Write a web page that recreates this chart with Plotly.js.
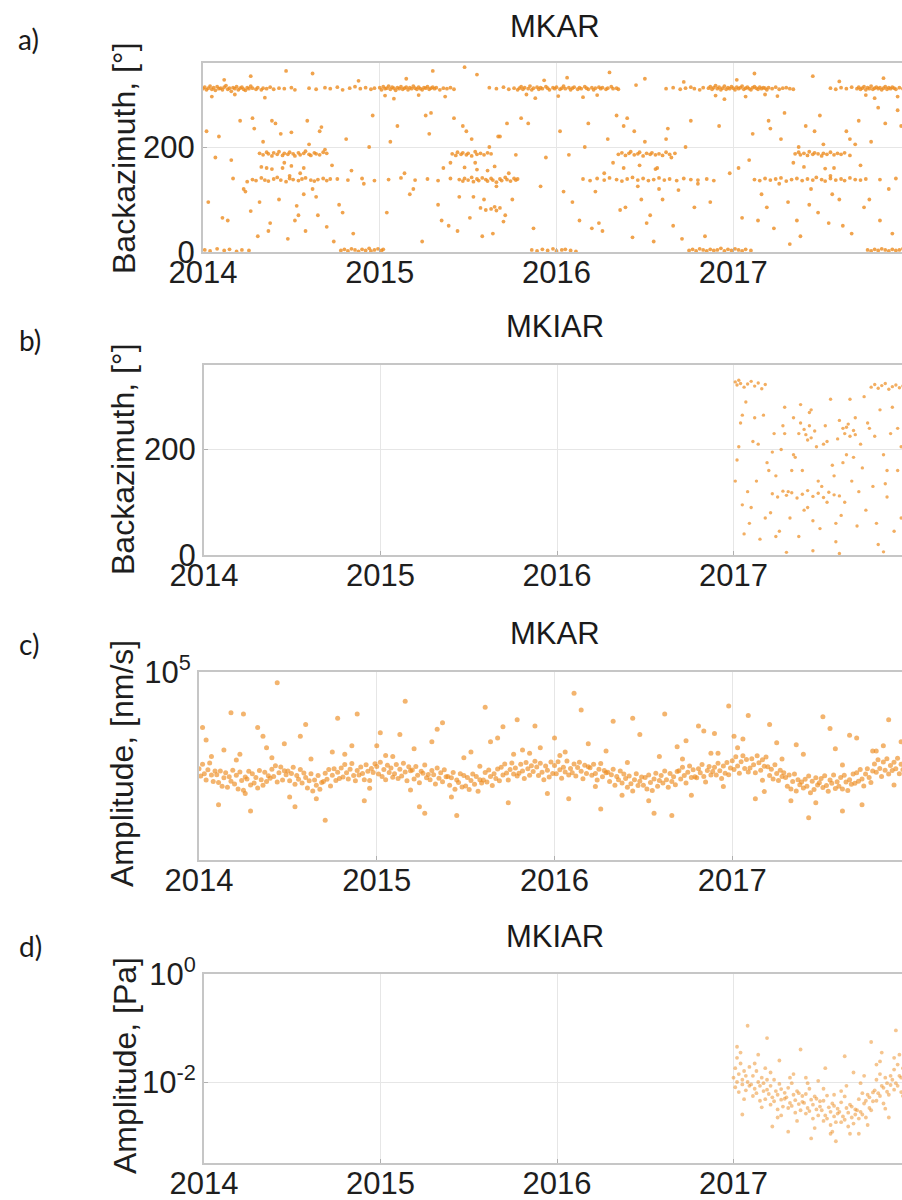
<!DOCTYPE html>
<html><head><meta charset="utf-8">
<script src="https://cdn.plot.ly/plotly-3.0.1.min.js"></script>
<style>html,body{margin:0;padding:0;overflow:hidden;background:#fff}#chart{width:910px;height:1200px}</style>
</head><body><div id="chart"></div>
<script>
// ---------- tick labels / texts ----------
const xTickVals = [2014, 2015, 2016, 2017];
const xTickLabels = ['2014', '2015', '2016', '2017'];
const panelTitles = ['MKAR', 'MKIAR', 'MKAR', 'MKIAR'];
const panelLetters = ['a)', 'b)', 'c)', 'd)'];
const yTitles = ['Backazimuth, [°]', 'Backazimuth, [°]', 'Amplitude, [nm/s]', 'Amplitude, [Pa]'];
const bazTickVals = [0, 200];
const bazTickLabels = ['0', '200'];
const velTickVals = [100000];
const velTickLabels = ['10<sup>5</sup>'];
const paTickVals = [1, 0.01];
const paTickLabels = ['10<sup>0</sup>', '10<sup>-2</sup>'];

// ---------- a) MKAR backazimuth (decimal year, degrees) ----------
const aX = [
2014.00,2014.01,2014.02,2014.03,2014.04,2014.05,2014.06,2014.07,2014.08,2014.09,2014.10,2014.11,2014.12,2014.13,2014.14,2014.15,2014.16,2014.17,2014.18,2014.19,2014.20,2014.21,2014.22,2014.23,2014.24,2014.25,2014.26,2014.27,2014.28,2014.30,2014.31,2014.33,2014.34,2014.36,2014.38,2014.40,2014.43,2014.46,2014.50,2014.52,
2014.60,2014.64,2014.69,2014.72,2014.76,2014.79,2014.83,2014.86,2014.89,2014.92,2014.95,2014.97,
2015.00,2015.01,2015.02,2015.03,2015.04,2015.05,2015.06,2015.07,2015.08,2015.09,2015.10,2015.11,2015.12,2015.13,2015.14,2015.15,2015.16,2015.17,2015.18,2015.19,2015.20,2015.21,2015.22,2015.23,2015.24,2015.25,2015.26,2015.27,2015.28,2015.29,2015.30,2015.31,2015.32,2015.34,2015.36,2015.38,2015.40,2015.42,
2015.62,2015.66,2015.70,2015.73,2015.76,2015.78,
2015.79,2015.80,2015.81,2015.82,2015.84,2015.85,2015.86,2015.87,2015.89,2015.90,2015.91,2015.92,2015.94,2015.95,2015.96,2015.98,2015.99,2016.00,2016.02,2016.03,2016.04,2016.05,2016.07,2016.08,2016.09,2016.10,2016.12,2016.13,2016.14,2016.16,2016.17,2016.18,2016.20,2016.21,2016.22,2016.24,2016.25,2016.26,2016.28,2016.29,2016.31,2016.32,2016.34,2016.35,
2016.62,2016.66,2016.70,2016.73,2016.76,2016.78,2016.81,2016.83,
2016.86,2016.87,2016.88,2016.89,2016.90,2016.91,2016.92,2016.93,2016.94,2016.95,2016.96,2016.97,2016.98,2016.99,2017.00,2017.01,2017.02,2017.03,2017.04,2017.05,2017.06,2017.07,2017.08,2017.09,2017.10,2017.11,2017.12,2017.13,2017.14,2017.15,2017.16,2017.17,2017.18,2017.19,2017.20,2017.22,2017.24,2017.26,2017.28,2017.30,2017.32,2017.34,
2017.55,2017.58,2017.61,2017.64,2017.67,
2017.70,2017.71,2017.72,2017.73,2017.74,2017.75,2017.76,2017.77,2017.78,2017.79,2017.80,2017.81,2017.82,2017.83,2017.84,2017.85,2017.86,2017.87,2017.88,2017.89,2017.90,2017.91,2017.92,2017.94,2017.96,2017.98,
2014.05,2014.12,2014.18,2014.27,2014.35,2014.62,2014.88,2015.03,2015.08,2015.15,2015.22,2015.30,2015.37,2015.55,2015.83,2015.88,2015.93,2016.01,2016.06,2016.15,2016.23,2016.30,2016.50,2016.72,2016.90,2016.95,2017.02,2017.07,2017.12,2017.18,2017.25,2017.45,2017.60,2017.75,2017.80,2017.85,2017.93,2014.47,2015.48,2016.45,
2014.32,2014.34,2014.36,2014.37,2014.39,2014.40,2014.42,2014.43,2014.45,2014.46,2014.48,2014.49,2014.51,2014.52,2014.54,2014.55,2014.57,2014.58,2014.60,2014.61,2014.63,2014.64,2014.66,2014.68,2014.70,
2015.41,2015.43,2015.44,2015.46,2015.47,2015.49,2015.50,2015.52,2015.54,2015.55,2015.57,2015.59,2015.61,2015.63,
2016.35,2016.37,2016.39,2016.41,2016.42,2016.44,2016.46,2016.47,2016.49,2016.51,2016.53,2016.54,2016.56,2016.58,2016.60,2016.62,2016.64,2016.67,
2017.35,2017.37,2017.38,2017.40,2017.42,2017.43,2017.45,2017.46,2017.48,2017.50,2017.51,2017.53,2017.55,2017.57,2017.59,2017.61,2017.63,2017.66,
2014.25,2014.28,2014.30,2014.33,2014.35,2014.37,2014.40,2014.42,2014.44,2014.47,2014.49,2014.51,2014.54,2014.56,2014.58,2014.61,2014.63,2014.65,2014.68,2014.70,2014.72,2014.45,
2014.76,2014.82,2014.90,2014.97,2015.05,2015.12,2015.20,2015.27,2015.33,2015.40,
2015.45,2015.47,2015.48,2015.50,2015.52,2015.53,2015.55,2015.56,2015.58,2015.60,2015.61,2015.63,2015.64,2015.66,2015.68,2015.69,2015.71,2015.72,2015.74,2015.76,2015.77,2015.78,
2016.15,2016.19,2016.23,2016.27,2016.30,2016.34,2016.37,2016.40,2016.43,2016.46,2016.49,2016.52,2016.55,2016.58,2016.61,2016.64,2016.68,2016.72,2016.76,2016.80,2016.85,2016.89,
2017.12,2017.15,2017.18,2017.21,2017.24,2017.27,2017.30,2017.33,2017.36,2017.39,2017.42,2017.45,2017.47,2017.50,2017.52,2017.55,2017.58,2017.61,2017.63,2017.66,2017.69,2017.72,2017.75,2017.83,2017.92,
2014.33,2014.39,2014.50,2014.57,2015.48,2015.55,2015.65,2016.38,2016.47,2016.56,2017.40,2017.52,
2014.01,2014.04,2014.08,2014.12,2014.15,2014.19,2014.22,2014.26,
2014.78,2014.80,2014.82,2014.84,2014.86,2014.88,2014.90,2014.92,2014.94,2014.95,2014.97,2014.99,2015.01,2015.02,
2015.86,2015.89,2015.92,2015.95,2015.98,2016.00,2016.03,2016.05,2016.08,2016.11,
2016.75,2016.77,2016.79,2016.81,2016.83,2016.85,2016.87,2016.89,2016.91,2016.93,2016.95,2016.97,2016.99,2017.01,2017.03,2017.05,2017.07,2017.10,
2017.76,2017.78,2017.80,2017.82,2017.84,2017.86,2017.88,2017.90,2017.92,2017.94,2017.96,2017.98,
2014.03,2014.09,2014.14,2014.21,2014.24,2014.27,2014.29,2014.31,2014.34,2014.36,2014.38,2014.41,2014.43,2014.46,2014.48,2014.50,2014.53,2014.55,2014.58,2014.60,2014.62,2014.65,2014.67,2014.70,2014.73,2014.77,2014.81,2014.85,2014.91,2014.96,
2015.04,2015.10,2015.17,2015.24,2015.28,2015.33,2015.36,2015.39,2015.42,2015.45,2015.49,2015.51,2015.54,2015.57,2015.60,2015.62,2015.64,2015.66,2015.68,2015.70,2015.73,2015.75,2015.80,2015.87,2015.94,
2016.02,2016.09,2016.13,2016.18,2016.22,2016.26,2016.29,2016.32,2016.36,2016.40,2016.43,2016.46,2016.50,2016.53,2016.57,2016.60,2016.63,2016.66,2016.69,2016.73,2016.78,2016.84,2016.92,2016.98,
2017.05,2017.11,2017.16,2017.20,2017.23,2017.27,2017.31,2017.34,2017.38,2017.41,2017.44,2017.48,2017.51,2017.54,2017.57,2017.60,2017.64,2017.67,2017.71,2017.74,2017.78,2017.83,2017.88,2017.93,2017.97,
2015.63,2015.65,2015.66,2015.68,
2014.07,2014.17,2014.39,2014.52,2014.57,2014.66,2014.79,2014.94,2015.14,2015.26,2015.44,2015.52,2015.59,2015.72,2015.91,2016.07,2016.24,2016.38,2016.48,2016.55,2016.62,2016.80,2017.09,2017.19,2017.29,2017.36,2017.46,2017.56,2017.69,2017.86
];
const aY = [
311,314,309,312,316,310,313,308,315,311,312,309,314,317,310,312,306,313,311,315,309,312,314,310,308,313,311,316,312,310,313,309,312,311,314,310,312,311,313,309,
312,310,313,311,314,309,312,315,311,313,310,312,
313,309,315,311,312,316,310,314,312,308,313,311,315,310,312,314,309,313,311,316,312,310,314,311,309,313,312,315,310,312,314,311,313,309,312,311,313,310,
313,311,314,310,312,309,
312,315,310,313,311,316,309,312,314,310,313,311,315,312,309,313,311,314,310,312,316,311,313,309,312,314,310,313,311,315,312,310,313,309,312,314,311,313,310,312,315,311,312,310,
311,313,310,312,314,311,309,313,
312,315,310,313,317,311,314,309,312,316,310,313,311,315,312,309,314,311,313,316,310,312,314,311,309,313,315,312,310,314,311,313,312,309,313,311,314,310,312,313,311,310,
312,310,313,311,314,
311,314,310,312,315,309,313,311,316,310,312,314,311,313,309,312,315,310,313,311,314,312,310,313,311,312,
296,328,300,335,294,340,326,298,292,330,299,345,296,338,300,293,327,297,332,295,299,342,330,324,298,291,328,296,340,300,297,335,325,299,293,331,296,345,352,318,
188,185,190,187,183,189,186,191,184,188,186,190,187,183,189,185,188,192,186,184,189,187,185,190,188,
187,184,190,186,189,185,188,183,191,186,188,185,189,187,
186,189,184,188,191,185,187,190,183,188,186,189,185,187,184,190,186,188,
187,190,185,188,184,191,186,189,187,183,188,186,190,185,188,186,189,184,
134,138,136,141,137,135,139,142,137,134,140,138,136,139,141,137,135,138,140,136,139,160,
139,137,140,136,138,141,137,139,136,140,
138,135,140,137,142,134,139,136,141,138,135,140,137,133,139,136,142,138,135,140,137,139,
139,136,140,137,141,138,135,139,142,137,140,136,138,141,137,139,136,140,138,137,139,136,
138,136,140,137,139,141,135,138,140,136,139,137,142,138,135,140,137,139,136,141,138,137,139,138,140,
162,158,164,160,161,157,163,160,165,158,162,159,
4,2,6,3,5,1,4,3,
3,5,2,6,4,1,5,3,7,2,4,6,3,5,
4,2,5,3,6,2,4,5,3,1,
3,5,2,6,4,2,5,3,4,7,2,5,3,6,4,2,5,3,
4,2,5,3,6,4,2,5,3,4,6,2,
95,220,60,250,115,78,235,30,210,160,55,245,100,170,25,228,88,150,40,205,120,70,238,48,165,90,215,35,130,260,
75,240,110,20,225,90,160,50,255,105,230,65,170,84,80,200,35,125,220,58,150,100,255,45,180,
230,95,60,245,115,40,215,170,80,255,28,125,210,70,160,100,235,50,118,200,85,30,240,150,
65,225,110,250,45,215,95,170,30,240,120,75,205,55,160,100,230,35,250,85,210,60,120,270,40,
82,86,79,84,
180,140,250,60,110,230,75,200,150,260,40,215,100,245,125,185,55,240,100,20,215,130,175,85,265,60,230,110,205,245
];
// additional scattered detections of panel a
const aXMore = [
2014.02,2014.11,2014.16,2014.23,2014.28,2014.32,2014.37,2014.44,2014.49,2014.54,2014.59,2014.64,2014.69,2014.74,2014.84,
2015.06,2015.19,2015.29,2015.35,2015.40,2015.47,2015.53,2015.58,2015.61,2015.67,2015.71,2015.77,2015.84,
2016.04,2016.16,2016.20,2016.27,2016.34,2016.39,2016.44,2016.51,2016.58,2016.65,2016.71,2016.76,2016.87,
2017.03,2017.14,2017.21,2017.26,2017.32,2017.37,2017.43,2017.49,2017.55,2017.62,2017.66,2017.72,2017.77,2017.82,2017.90,2017.95
];
const aYMore = [
230,65,175,120,255,95,40,225,145,70,250,105,195,20,155,
210,120,265,60,170,240,105,30,155,220,70,185,245,
115,200,45,150,260,85,230,55,120,180,25,250,95,
160,60,235,130,15,200,90,260,145,50,215,165,100,275,35,240
];

// ---------- b) MKIAR backazimuth ----------
const bX = [
2017.01,2017.02,2017.03,2017.04,2017.06,2017.08,2017.10,2017.12,2017.14,2017.16,2017.18,
2017.78,2017.80,2017.82,2017.84,2017.86,2017.88,2017.90,2017.92,2017.94,2017.96,
2017.38,2017.40,2017.41,2017.43,2017.44,2017.46,2017.60,2017.62,2017.63,2017.65,2017.66,2017.68,
2017.22,2017.25,2017.28,2017.30,2017.33,2017.36,2017.39,2017.42,2017.45,2017.48,2017.51,2017.54,2017.57,2017.60,
2017.02,2017.04,2017.05,2017.07,2017.09,2017.11,2017.13,2017.15,2017.17,2017.19,2017.21,2017.23,2017.24,2017.26,2017.27,2017.29,2017.31,2017.32,2017.34,2017.35,2017.37,2017.39,2017.42,2017.44,2017.47,2017.49,2017.50,2017.52,2017.53,2017.55,2017.56,2017.58,2017.59,2017.61,2017.64,2017.67,2017.69,2017.70,2017.72,2017.73,2017.75,2017.77,2017.79,2017.81,2017.83,2017.85,2017.87,2017.89,2017.91,2017.93,2017.95,2017.97,
2017.03,2017.08,2017.12,2017.18,2017.22,2017.28,2017.33,2017.38,2017.45,2017.51,2017.57,2017.63,2017.68,2017.74,2017.80,2017.86,2017.90,2017.95,2017.99,2017.06,
2017.30,2017.45,2017.60,2017.85,
2017.01,2017.05,2017.10,2017.14,2017.20,2017.24,2017.29,2017.34,2017.40,2017.43,2017.48,2017.53,2017.58,2017.62,2017.66,2017.71,2017.76,2017.82,2017.87,2017.93,2017.98,2017.37,2017.42,2017.64,2017.69
];
const bY = [
328,322,331,325,318,324,329,320,326,315,323,
318,323,316,321,325,314,319,322,317,320,
250,238,228,245,222,235,255,240,230,248,225,236,
116,110,121,113,118,108,115,122,111,117,109,119,114,112,
180,250,95,290,60,215,140,30,265,175,80,230,150,45,200,280,120,70,260,185,35,160,90,275,205,50,130,245,100,295,170,25,220,75,190,140,260,55,210,165,85,240,130,60,275,190,110,230,45,160,205,100,
205,120,260,70,195,245,160,285,65,210,150,100,185,300,225,135,280,70,190,40,
5,8,3,6,
140,265,90,210,160,35,230,190,85,270,140,215,60,175,295,120,250,20,160,240,95,230,218,242,228
];

// ---------- c) MKAR amplitude, nm/s ----------
const cX = [
2014.00,2014.01,2014.02,2014.03,2014.04,2014.05,2014.06,2014.07,2014.08,2014.09,
2014.10,2014.11,2014.12,2014.13,2014.14,2014.15,2014.16,2014.17,2014.18,2014.19,
2014.20,2014.21,2014.22,2014.23,2014.24,2014.25,2014.26,2014.27,2014.28,2014.29,
2014.30,2014.31,2014.32,2014.33,2014.34,2014.35,2014.36,2014.37,2014.38,2014.39,
2014.40,2014.41,2014.42,2014.43,2014.44,2014.45,2014.46,2014.47,2014.48,2014.49,
2014.50,2014.51,2014.52,2014.53,2014.54,2014.55,2014.56,2014.57,2014.58,2014.59,
2014.60,2014.61,2014.62,2014.63,2014.64,2014.65,2014.66,2014.67,2014.68,2014.69,
2014.70,2014.71,2014.72,2014.73,2014.74,2014.75,2014.76,2014.77,2014.78,2014.79,
2014.80,2014.81,2014.82,2014.83,2014.84,2014.85,2014.86,2014.87,2014.88,2014.89,
2014.90,2014.91,2014.92,2014.93,2014.94,2014.95,2014.96,2014.97,2014.98,2014.99,
2015.00,2015.01,2015.02,2015.03,2015.04,2015.05,2015.06,2015.07,2015.08,2015.09,
2015.10,2015.11,2015.12,2015.13,2015.14,2015.15,2015.16,2015.17,2015.18,2015.19,
2015.20,2015.21,2015.22,2015.23,2015.24,2015.25,2015.26,2015.27,2015.28,2015.29,
2015.30,2015.31,2015.32,2015.33,2015.34,2015.35,2015.36,2015.37,2015.38,2015.39,
2015.40,2015.41,2015.42,2015.43,2015.44,2015.45,2015.46,2015.47,2015.48,2015.49,
2015.50,2015.51,2015.52,2015.53,2015.54,2015.55,2015.56,2015.57,2015.58,2015.59,
2015.60,2015.61,2015.62,2015.63,2015.64,2015.65,2015.66,2015.67,2015.68,2015.69,
2015.70,2015.71,2015.72,2015.73,2015.74,2015.75,2015.76,2015.77,2015.78,2015.79,
2015.80,2015.81,2015.82,2015.83,2015.84,2015.85,2015.86,2015.87,2015.88,2015.89,
2015.90,2015.91,2015.92,2015.93,2015.94,2015.95,2015.96,2015.97,2015.98,2015.99,
2016.00,2016.01,2016.02,2016.03,2016.04,2016.05,2016.06,2016.07,2016.08,2016.09,
2016.10,2016.11,2016.12,2016.13,2016.14,2016.15,2016.16,2016.17,2016.18,2016.19,
2016.20,2016.21,2016.22,2016.23,2016.24,2016.25,2016.26,2016.27,2016.28,2016.29,
2016.30,2016.31,2016.32,2016.33,2016.34,2016.35,2016.36,2016.37,2016.38,2016.39,
2016.40,2016.41,2016.42,2016.43,2016.44,2016.45,2016.46,2016.47,2016.48,2016.49,
2016.50,2016.51,2016.52,2016.53,2016.54,2016.55,2016.56,2016.57,2016.58,2016.59,
2016.60,2016.61,2016.62,2016.63,2016.64,2016.65,2016.66,2016.67,2016.68,2016.69,
2016.70,2016.71,2016.72,2016.73,2016.74,2016.75,2016.76,2016.77,2016.78,2016.79,
2016.80,2016.81,2016.82,2016.83,2016.84,2016.85,2016.86,2016.87,2016.88,2016.89,
2016.90,2016.91,2016.92,2016.93,2016.94,2016.95,2016.96,2016.97,2016.98,2016.99,
2017.00,2017.01,2017.02,2017.03,2017.04,2017.05,2017.06,2017.07,2017.08,2017.09,
2017.10,2017.11,2017.12,2017.13,2017.14,2017.15,2017.16,2017.17,2017.18,2017.19,
2017.20,2017.21,2017.22,2017.23,2017.24,2017.25,2017.26,2017.27,2017.28,2017.29,
2017.30,2017.31,2017.32,2017.33,2017.34,2017.35,2017.36,2017.37,2017.38,2017.39,
2017.40,2017.41,2017.42,2017.43,2017.44,2017.45,2017.46,2017.47,2017.48,2017.49,
2017.50,2017.51,2017.52,2017.53,2017.54,2017.55,2017.56,2017.57,2017.58,2017.59,
2017.60,2017.61,2017.62,2017.63,2017.64,2017.65,2017.66,2017.67,2017.68,2017.69,
2017.70,2017.71,2017.72,2017.73,2017.74,2017.75,2017.76,2017.77,2017.78,2017.79,
2017.80,2017.81,2017.82,2017.83,2017.84,2017.85,2017.86,2017.87,2017.88,2017.89,
2017.90,2017.91,2017.92,2017.93,2017.94,2017.95,2017.96,2017.97,2017.98,2017.99,
2014.04,2014.11,2014.18,2014.23,2014.29,2014.33,2014.38,2014.44,2014.51,2014.57,2014.63,2014.71,2014.78,2014.86,2014.93,2015.02,2015.09,2015.16,2015.24,2015.31,2015.37,2015.45,2015.53,2015.61,2015.68,2015.74,2015.82,2015.89,2015.96,2016.03,2016.11,2016.19,2016.26,2016.33,2016.41,2016.48,2016.56,2016.62,2016.69,2016.77,2016.84,2016.92,2016.98,2017.06,2017.13,2017.21,2017.28,2017.36,2017.43,2017.51,2017.58,2017.66,2017.73,2017.81,2017.88,2017.95,
2014.07,2014.26,2014.41,2014.66,2014.82,2015.05,2015.19,2015.42,2015.58,2015.77,2016.06,2016.23,2016.38,2016.53,2016.72,2016.88,2017.03,2017.17,2017.33,2017.47,2017.62,2017.79,2017.91,2014.96,2015.86,2016.95,
2014.02,2014.14,2014.21,2014.36,2014.48,2014.60,2014.75,2014.89,2015.00,2015.13,2015.21,2015.34,2015.49,2015.64,2015.79,2015.92,2016.00,2016.15,2016.29,2016.44,2016.59,2016.74,2016.81,2016.90,2017.01,2017.09,2017.25,2017.40,2017.55,2017.70,2017.85,2017.98,2014.54,2015.27,2016.08,2016.66,2017.18,2017.62,2014.25,2015.71
];
const cY = [
32100,29400,33800,30200,28100,31700,34300,29800,27600,31200,
29900,27300,31200,26100,28800,30600,25800,29200,27700,31500,
26800,29700,25300,30900,27900,24900,29100,28400,31100,26500,
30200,27100,28900,25600,31400,28200,26400,30800,27600,29500,
28700,31900,29300,33200,27400,30600,32700,28100,31300,29900,
31200,27800,30300,32600,26700,29600,28300,31800,27100,30500,
28900,25600,27800,30200,24700,28100,26400,29600,25200,27300,
27600,30400,28300,31800,26200,29700,32100,27900,30800,28600,
32300,29100,33700,30600,28400,31900,34100,29600,27800,31400,
29800,32700,30300,28200,33600,31100,27900,32200,30700,34000,
32900,30100,34600,29300,31800,28200,33400,30700,32300,29000,
30200,33700,28600,31900,29400,34200,30900,27800,32800,31300,
31600,28400,32900,29700,27200,31100,30400,33500,28800,30000,
28200,31400,29900,26800,32300,28700,30600,27500,31700,29200,
29300,26400,28800,30700,25200,28100,27300,30200,25900,29600,
26200,28900,25100,27900,30100,26700,29300,24600,28200,27100,
28100,30700,27400,31600,29300,26300,30200,28600,32000,27800,
32600,29800,33900,30500,28100,31800,34300,30100,32300,29400,
30400,33800,31200,28600,34500,32100,29700,33200,31000,35000,
32700,29600,34200,30800,28200,33100,31500,29100,34700,30300,
33300,30200,34800,31700,28700,32600,30900,35100,29800,32200,
30600,33900,29400,32500,34600,31100,28500,33400,30300,32800,
32400,29700,33800,30300,28100,31900,34100,29200,31400,30600,
30800,27600,29900,31900,26400,29300,28200,31200,27100,30100,
28600,25800,29400,26900,24700,28200,30200,26300,27700,29100,
26400,28900,25300,29800,27300,24800,28400,30400,26100,27900,
29600,27100,31200,28200,25800,30300,27600,29200,26600,31000,
31300,28400,32600,29600,27100,30800,33100,28900,31700,29200,
28800,32100,30600,33700,29300,27400,31400,32900,29800,31000,
32600,29800,34200,31300,28600,33100,30400,34500,29900,32300,
35200,31800,36900,33100,30400,34800,37300,32200,35700,30900,
32300,36100,33600,30600,37400,34400,31500,35600,33000,36800,
32800,29600,31900,28400,33600,30300,27900,31500,29300,30600,
28900,26100,29800,25300,27600,30100,24700,28200,26600,27400,
25600,28300,26100,29400,24200,27700,25100,28800,26500,27200,
28600,25700,29500,26300,24600,28100,27000,29800,25400,27500,
26100,28900,25300,29700,27400,24800,28200,26700,30100,27000,
30600,27700,31800,28400,26200,30100,32100,28900,27300,31200,
33900,30800,35600,32200,29300,34700,31500,36100,30100,33300,
31400,34600,32100,36300,30200,33800,31700,35400,29600,34100,
45000,21000,62000,38000,19500,52000,41000,88000,23000,47000,36000,17500,58000,42000,22000,49000,37000,71000,20500,44000,55000,18500,39000,66000,46000,21500,40000,53000,24000,37500,78000,43000,20000,56000,34500,48000,19000,61000,41500,23500,50000,38500,67000,45500,22500,54000,36000,42500,18000,59000,40500,47500,21000,39500,57000,44000,
37000,24000,36500,22500,38000,37500,25000,23000,33000,38000,39000,26000,23500,22000,36000,38500,41000,28000,22000,21500,33500,39500,26500,25500,38500,26000,
52000,40000,35500,47000,43000,54000,39000,61000,42000,48000,40500,51000,36500,44000,57000,41000,46000,64000,39500,58000,37000,44500,53000,48500,47000,60000,43500,38000,51500,46000,42000,49500,20500,19000,22500,18500,24500,19500,61000,52500
];

// ---------- d) MKIAR amplitude, Pa ----------
const dX = [
2017.00,2017.01,2017.01,2017.02,2017.03,2017.03,2017.04,2017.05,2017.05,2017.06,2017.07,2017.07,2017.08,2017.09,2017.09,
2017.10,2017.11,2017.11,2017.12,2017.13,2017.13,2017.14,2017.15,2017.15,2017.16,2017.17,2017.17,2017.18,2017.19,2017.19,
2017.20,2017.21,2017.21,2017.22,2017.23,2017.23,2017.24,2017.25,2017.25,2017.26,2017.27,2017.27,2017.28,2017.29,2017.29,
2017.30,2017.31,2017.31,2017.32,2017.33,2017.33,2017.34,2017.35,2017.35,2017.36,2017.37,2017.37,2017.38,2017.39,2017.39,
2017.40,2017.41,2017.41,2017.42,2017.43,2017.43,2017.44,2017.45,2017.45,2017.46,2017.47,2017.47,2017.48,2017.49,2017.49,
2017.50,2017.51,2017.51,2017.52,2017.53,2017.53,2017.54,2017.55,2017.55,2017.56,2017.57,2017.57,2017.58,2017.59,2017.59,
2017.60,2017.61,2017.61,2017.62,2017.63,2017.63,2017.64,2017.65,2017.65,2017.66,2017.67,2017.67,2017.68,2017.69,2017.69,
2017.70,2017.71,2017.71,2017.72,2017.73,2017.73,2017.74,2017.75,2017.75,2017.76,2017.77,2017.77,2017.78,2017.79,2017.79,
2017.80,2017.81,2017.81,2017.82,2017.83,2017.83,2017.84,2017.85,2017.85,2017.86,2017.87,2017.87,2017.88,2017.89,2017.89,
2017.90,2017.91,2017.91,2017.92,2017.93,2017.93,2017.94,2017.95,2017.95,2017.96,2017.97,2017.97,2017.98,2017.99,2017.99,
2017.02,2017.08,2017.14,2017.19,2017.26,2017.31,2017.38,2017.44,2017.52,2017.58,2017.63,2017.71,2017.78,2017.84,2017.92,2017.97,2017.05,2017.22,2017.41,2017.55,2017.68,2017.88,
2017.02,2017.06,2017.12,2017.16,2017.21,2017.27,2017.32,2017.36,2017.42,2017.46,2017.51,2017.56,2017.61,2017.66,2017.72,2017.76,2017.81,2017.86,2017.91,2017.96,2017.04,2017.18,2017.34,2017.48,2017.64,2017.74,2017.83,2017.94,2017.25,2017.57
];
const dY = [
0.012,0.008,0.018,0.010,0.014,0.0065,0.022,0.011,0.009,0.016,0.007,0.013,0.010,0.019,0.0085,
0.009,0.0055,0.013,0.0075,0.016,0.0062,0.010,0.0045,0.0085,0.012,0.0068,0.0095,0.0048,0.011,0.0072,
0.006,0.0038,0.0085,0.0052,0.011,0.0044,0.0068,0.0031,0.0058,0.0092,0.0047,0.0074,0.0035,0.0063,0.0049,
0.0052,0.0033,0.0078,0.0041,0.0095,0.0036,0.0058,0.0027,0.0046,0.0068,0.0039,0.0062,0.0030,0.0055,0.0043,
0.0041,0.0026,0.0060,0.0033,0.0075,0.0029,0.0047,0.0021,0.0038,0.0054,0.0031,0.0049,0.0024,0.0044,0.0035,
0.0030,0.0019,0.0045,0.0024,0.0056,0.0021,0.0034,0.0016,0.0028,0.0040,0.0023,0.0036,0.0018,0.0032,0.0026,
0.0028,0.0018,0.0042,0.0023,0.0054,0.0020,0.0033,0.0015,0.0027,0.0038,0.0022,0.0035,0.0017,0.0031,0.0025,
0.0030,0.0021,0.0048,0.0028,0.0062,0.0025,0.0040,0.0022,0.0045,0.0058,0.0033,0.0052,0.0030,0.0064,0.0044,
0.0070,0.0045,0.011,0.0062,0.014,0.0055,0.0085,0.0040,0.0078,0.012,0.0066,0.0095,0.0058,0.013,0.0088,
0.011,0.0072,0.017,0.0095,0.021,0.0085,0.013,0.0065,0.012,0.018,0.0098,0.015,0.008,0.019,0.012,
0.045,0.11,0.032,0.065,0.025,0.0012,0.04,0.0009,0.018,0.0008,0.03,0.0011,0.055,0.035,0.09,0.28,0.0025,0.0015,0.012,0.0011,0.015,0.0022,
0.028,0.0048,0.022,0.0034,0.015,0.0024,0.012,0.0019,0.0095,0.0014,0.0075,0.0012,0.0068,0.0011,0.0095,0.0016,0.021,0.0032,0.028,0.0055,0.035,0.018,0.014,0.0105,0.0085,0.013,0.024,0.032,0.0022,0.0058
];

// ---------- styling / geometry (pixels of the 910x1200 figure) ----------
const W = 910, H = 1200;
const FONT = 'Liberation Sans, Arial, sans-serif';
const ORANGE = 'rgb(236,140,32)';
const panels = [
  {left: 203, top: 63,  bottom: 252},
  {left: 204, top: 365, bottom: 555},
  {left: 199, top: 672, bottom: 860},
  {left: 204, top: 974, bottom: 1163}
];
const titleY = [26, 327, 633, 936];
const letterPos = [[28, 39], [30, 340], [29, 644], [31, 946]];
const yTitlePos = [[124, 158], [123, 459], [122, 764], [125, 1066]];

const px = v => v / W;
const py = v => 1 - v / H;

function xAxis(i) {
  const p = panels[i];
  return {
    domain: [px(p.left), 1], anchor: i === 0 ? 'y' : 'y' + (i + 1),
    range: [2014, 2018], tickmode: 'array', tickvals: xTickVals, ticktext: xTickLabels,
    showgrid: true, gridcolor: '#e6e6e6', gridwidth: 1, zeroline: false,
    showline: true, mirror: true, linecolor: '#c6c6c6', linewidth: 2,
    ticks: 'inside', ticklen: 4, tickcolor: '#b0b0b0', ticklabelstandoff: -8,
    tickfont: {family: FONT, size: 31, color: '#1e1e1e'}
  };
}
function yBase(i) {
  const p = panels[i];
  return {
    domain: [py(p.bottom), py(p.top)], anchor: i === 0 ? 'x' : 'x' + (i + 1),
    showgrid: true, gridcolor: '#e6e6e6', gridwidth: 1, zeroline: false,
    showline: true, mirror: true, linecolor: '#c6c6c6', linewidth: 2,
    ticks: 'inside', ticklen: 4, tickcolor: '#b0b0b0',
    tickfont: {family: FONT, size: 31, color: '#1e1e1e'}, tickmode: 'array'
  };
}

const marker = (sz, op) => ({color: ORANGE, size: sz, opacity: op, line: {width: 0}});
const traces = [
  {x: aX.concat(aXMore), y: aY.concat(aYMore), xaxis: 'x', yaxis: 'y', type: 'scatter', mode: 'markers', marker: marker(3.8, 0.8), hoverinfo: 'none'},
  {x: bX, y: bY, xaxis: 'x2', yaxis: 'y2', type: 'scatter', mode: 'markers', marker: marker(3.4, 0.7), hoverinfo: 'none'},
  {x: cX, y: cY, xaxis: 'x3', yaxis: 'y3', type: 'scatter', mode: 'markers', marker: marker(5, 0.65), hoverinfo: 'none'},
  {x: dX, y: dY, xaxis: 'x4', yaxis: 'y4', type: 'scatter', mode: 'markers', marker: marker(3.8, 0.5), hoverinfo: 'none'}
];

const layout = {
  width: W, height: H, autosize: false,
  margin: {l: 0, r: 0, t: 0, b: 0, pad: 0},
  paper_bgcolor: '#fff', plot_bgcolor: '#fff', showlegend: false,
  xaxis: xAxis(0), xaxis2: xAxis(1), xaxis3: xAxis(2), xaxis4: xAxis(3),
  yaxis: Object.assign(yBase(0), {range: [0, 360], tickvals: bazTickVals, ticktext: bazTickLabels}),
  yaxis2: Object.assign(yBase(1), {range: [0, 360], tickvals: bazTickVals, ticktext: bazTickLabels}),
  yaxis3: Object.assign(yBase(2), {type: 'log', range: [4.04, 5], tickvals: velTickVals, ticktext: velTickLabels, showgrid: false}),
  yaxis4: Object.assign(yBase(3), {type: 'log', range: [-3.5, 0], tickvals: paTickVals, ticktext: paTickLabels}),
  annotations: []
};
for (let i = 0; i < 4; i++) {
  layout.annotations.push({xref: 'paper', yref: 'paper', x: px(555), y: py(titleY[i]), xanchor: 'center', yanchor: 'middle',
    text: panelTitles[i], showarrow: false, font: {family: FONT, size: 31, color: '#1a1a1a'}});
  layout.annotations.push({xref: 'paper', yref: 'paper', x: px(letterPos[i][0]), y: py(letterPos[i][1]), xanchor: 'center', yanchor: 'middle',
    text: panelLetters[i], showarrow: false, font: {family: 'Lato, Carlito, sans-serif', size: 28, color: '#1a1a1a'}});
  layout.annotations.push({xref: 'paper', yref: 'paper', x: px(yTitlePos[i][0]), y: py(yTitlePos[i][1]), xanchor: 'center', yanchor: 'middle',
    text: yTitles[i], textangle: -90, showarrow: false, font: {family: FONT, size: 32, color: '#1e1e1e'}});
}

Plotly.newPlot('chart', traces, layout, {staticPlot: true, displayModeBar: false});
</script>
</body></html>
